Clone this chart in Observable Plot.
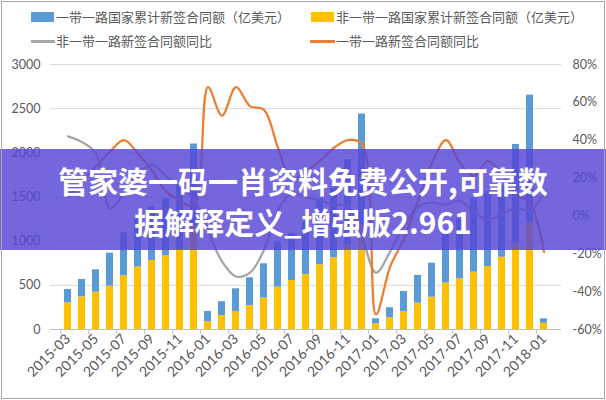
<!DOCTYPE html>
<html><head><meta charset="utf-8">
<script src="https://cdn.jsdelivr.net/npm/d3@7"></script>
<script src="https://cdn.jsdelivr.net/npm/@observablehq/plot@0.6"></script>
<style>
body{margin:0;background:#fff;}
#wrap{position:relative;width:606px;height:400px;overflow:hidden;font-family:"Noto Sans CJK SC",sans-serif;background:#fff;}
#chart{position:absolute;left:0;top:0;}
.frame{position:absolute;left:1px;top:1px;width:602px;height:396px;border:1px solid #a6a6a6;pointer-events:none;}
.lg{position:absolute;font-size:13px;color:#595959;line-height:16px;white-space:nowrap;}
.sw{position:absolute;}
#banner{position:absolute;left:0;top:149px;width:606px;height:101px;background:rgba(85,70,215,0.82);}
.bt{position:absolute;left:0;width:606px;text-align:center;color:#fff;font-weight:700;font-size:30px;line-height:34px;font-family:"Noto Sans CJK SC",sans-serif;white-space:nowrap;}
</style></head>
<body>
<div id="wrap">
  <div id="chart"></div>
  <div class="sw" style="left:31px;top:12px;width:23px;height:10px;background:#5B9BD5"></div>
  <div class="lg" style="left:56px;top:9px">一带一路国家累计新签合同额（亿美元）</div>
  <div class="sw" style="left:311px;top:12px;width:23px;height:10px;background:#FFC000"></div>
  <div class="lg" style="left:336px;top:9px">非一带一路国家累计新签合同额（亿美元）</div>
  <div class="sw" style="left:31px;top:40px;width:24px;height:3px;background:#A5A5A5"></div>
  <div class="lg" style="left:56px;top:33px">非一带一路新签合同额同比</div>
  <div class="sw" style="left:310px;top:40px;width:25px;height:3px;background:#ED7D31"></div>
  <div class="lg" style="left:336px;top:33px">一带一路新签合同额同比</div>
  <div id="banner"></div>
  <div class="bt" style="top:163px">管家婆一码一肖资料免费公开,可靠数</div>
  <div class="bt" style="top:204px">据解释定义_增强版2.961</div>
  <div class="frame"></div>
</div>
<script>
const months = ["2015-03","2015-04","2015-05","2015-06","2015-07","2015-08","2015-09","2015-10","2015-11","2015-12",
  "2016-01","2016-02","2016-03","2016-04","2016-05","2016-06","2016-07","2016-08","2016-09","2016-10","2016-11","2016-12",
  "2017-01","2017-02","2017-03","2017-04","2017-05","2017-06","2017-07","2017-08","2017-09","2017-10","2017-11","2017-12",
  "2018-01"];
// 非一带一路国家累计新签合同额（亿美元）
const nonBri = [302,370,423,491,608,706,781,838,907,1174,
  88,158,204,272,355,479,555,623,733,812,960,1180,
  65,133,204,298,366,525,574,649,713,818,970,1210,
  71];
// 一带一路国家累计新签合同额（亿美元）
const bri = [151,196,253,373,487,540,609,642,716,926,
  116,157,257,313,389,510,535,597,742,788,965,1260,
  56,113,226,314,385,596,676,836,847,802,1125,1443,
  50];
// 一带一路新签合同额同比 (%)
const briYoY = [10,18,26,34,40,33,24,13,8,5,
  68,53,68,58,56,36,19,24,29,36,40,38,
  -52,-27,-12,8,28,40,28,21,29,22,11,7,
  -19];
// 非一带一路新签合同额同比 (%)
const nonBriYoY = [42,39,33,4,12,22,27,21,15,9,
  -8,-24,-32,-30,-18,3,12,10,8,6,5,-11,
  -30,-19,-5,5,7,6,8,2,-2,1,4,3,
  12];
const leftTicks = [0,500,1000,1500,2000,2500,3000];
const pctTicks = [-60,-40,-20,0,20,40,60,80];
const xLabels = months.filter((d,i) => i % 2 === 0);

const toY = p => (p + 60) / 140 * 3000;
const rows = months.map((m,i) => ({m, non: nonBri[i], bri: bri[i], top: nonBri[i] + bri[i], o: toY(briYoY[i]), g: toY(nonBriYoY[i])}));

const chart = Plot.plot({
  width: 606, height: 400,
  marginLeft: 50, marginRight: 45, marginTop: 64, marginBottom: 71,
  style: {fontFamily: "Lato, 'Noto Sans', sans-serif", fontSize: "12px", color: "#595959", background: "transparent"},
  x: {type: "band", domain: months, padding: 0.5, align: 0.5},
  y: {domain: [0, 3000]},
  marks: [
    Plot.ruleY(leftTicks.filter(d => d > 0), {stroke: "#d9d9d9", strokeWidth: 1}),
    Plot.barY(rows, {x: "m", y1: 0, y2: "non", fill: "#FFC000"}),
    Plot.barY(rows, {x: "m", y1: "non", y2: "top", fill: "#5B9BD5"}),
    Plot.ruleY([0], {stroke: "#bfbfbf", strokeWidth: 1}),
    Plot.ruleX(xLabels, {x: d => d, y1: 0, y2: -60, dx: -7.3, stroke: "#bfbfbf"}),
    Plot.line(rows, {x: "m", y: "g", stroke: "#A5A5A5", strokeWidth: 2.25, curve: "catmull-rom"}),
    Plot.line(rows, {x: "m", y: "o", stroke: "#ED7D31", strokeWidth: 2.25, curve: "catmull-rom"}),
    Plot.axisY({anchor: "left", ticks: leftTicks, tickFormat: d => String(d), tickSize: 0, tickPadding: 10, label: null, fill: "#595959", fontSize: 12.5}),
    Plot.axisY({anchor: "right", ticks: pctTicks.map(toY), tickFormat: v => Math.round(v / 3000 * 140 - 60) + "%", tickSize: 0, tickPadding: 11, label: null, fill: "#595959", fontSize: 12.5}),
    Plot.axisX({ticks: xLabels, tickSize: 0, tickPadding: 7, tickRotate: -45, label: null, fill: "#595959", fontSize: 14})
  ]
});
document.getElementById("chart").appendChild(chart);
</script>
</body></html>
